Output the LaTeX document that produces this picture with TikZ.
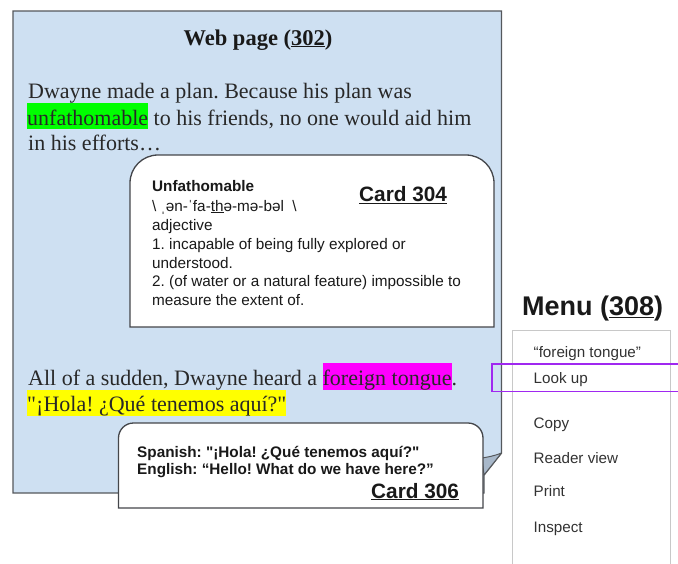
\documentclass[tikz,border=0pt]{standalone}
\usepackage{fontspec}
\setmainfont{Liberation Serif}[Ligatures=TeXOff]
\setsansfont{Liberation Sans}[Ligatures=TeXOff]
\frenchspacing
\definecolor{pagefill}{RGB}{206,224,242}
\definecolor{pageline}{RGB}{85,88,92}
\definecolor{foldfill}{RGB}{168,184,202}
\definecolor{bodytext}{RGB}{40,40,40}
\definecolor{cardtext}{RGB}{25,25,25}
\definecolor{menutext}{RGB}{50,50,50}
\definecolor{menuline}{RGB}{200,200,200}
\definecolor{hlgreen}{RGB}{0,255,0}
\definecolor{hlmagenta}{RGB}{255,0,255}
\definecolor{hlyellow}{RGB}{255,255,0}
\definecolor{lookup}{RGB}{160,40,240}
\newcommand{\hlbox}[2]{{\setlength{\fboxsep}{0pt}\colorbox{#1}{\rule[-4pt]{0pt}{26pt}#2}}}
\tikzset{
  pagebody/.style={fill=pagefill,draw=pageline,line width=1.4pt,line join=miter},
  foldflap/.style={fill=foldfill,draw=pageline,line width=1pt,line join=round},
  cardbody/.style={fill=white,draw=pageline!80!black,line width=1.3pt},
  serifline/.style={anchor=base west,inner sep=0pt,font=\fontsize{22}{26}\selectfont,text=bodytext},
  cardline/.style={anchor=base west,inner sep=0pt,font=\sffamily\fontsize{15.3}{18}\selectfont,text=cardtext},
  cardbold/.style={cardline,font=\sffamily\bfseries\fontsize{15.3}{18}\selectfont},
  cardtitle/.style={anchor=base west,inner sep=0pt,font=\sffamily\bfseries\fontsize{20.8}{24}\selectfont,text=cardtext},
  menuitem/.style={anchor=base west,inner sep=0pt,font=\sffamily\fontsize{15.2}{18}\selectfont,text=menutext},
}
\begin{document}
\begin{tikzpicture}[x=1pt,y=-1pt]
\useasboundingbox (0,0) rectangle (678,563);
\clip (0,0) rectangle (678,563);
% web page
\draw[pagebody] (13,11) -- (501.5,11) -- (501.5,453) -- (484,475) -- (484,493) -- (13,493) -- cycle;
\draw[foldflap] (501.5,453) .. controls (494,456) and (488,457) .. (482,458) -- (484,475) -- cycle;
\node[anchor=base,inner sep=0pt,font=\bfseries\fontsize{22.5}{26}\selectfont,text=black!90] (title) at (258,45) {Web page (\underline{302})};
\node[serifline] (l1) at (28,98) {Dwayne made a plan. Because his plan was};
\node[serifline] (l2) at (27,125) {\hlbox{hlgreen}{unfathomable} to his friends, no one would aid him};
\node[serifline] (l3) at (28,150.5) {in his efforts\ldots};
\node[serifline] (l4) at (28,385) {All of a sudden, Dwayne heard a \hlbox{hlmagenta}{foreign tongue}.};
\node[serifline] (l5) at (27,411.5) {\hlbox{hlyellow}{"¡Hola! ¿Qué tenemos aquí?"}};
% card 304
\draw[cardbody] (130,327) -- (130,183) arc[start angle=180,end angle=270,radius=28] -- (466,155) arc[start angle=270,end angle=360,radius=28] -- (494,327) -- cycle;
\node[cardbold] (c1) at (152,191.5) {Unfathomable};
\node[cardline] (c2) at (152,211) {\textbackslash{} ˌən-ˈfa-\underline{th}ə-mə-bəl \ \textbackslash};
\node[cardline] (c3) at (152,230) {adjective};
\node[cardline] (c4) at (152,249.5) {1. incapable of being fully explored or};
\node[cardline] (c5) at (152,268) {understood.};
\node[cardline] (c6) at (152,286.5) {2. (of water or a natural feature) impossible to};
\node[cardline] (c7) at (152,305) {measure the extent of.};
\node[cardtitle] (card304) at (359,201.5) {\underline{Card 304}};
% card 306
\draw[cardbody] (118.5,508) -- (118.5,438) arc[start angle=180,end angle=270,radius=15] -- (468,423) arc[start angle=270,end angle=360,radius=15] -- (483,508) -- cycle;
\node[cardbold] (s1) at (137,457.5) {Spanish: "¡Hola! ¿Qué tenemos aquí?"};
\node[cardbold] (s2) at (137,474) {English: “Hello! What do we have here?”};
\node[cardtitle] (card306) at (371,498) {\underline{Card 306}};
% menu
\node[anchor=base west,inner sep=0pt,font=\sffamily\bfseries\fontsize{27}{30}\selectfont,text=black!90] (menutitle) at (522,315) {Menu (\underline{308})};
\draw[draw=menuline,line width=1pt] (512,575) -- (512,330) -- (670,330) -- (670,575);
\node[menuitem] (m1) at (533.5,357) {“foreign tongue”};
\node[menuitem] (m2) at (533.5,383) {Look up};
\node[menuitem] (m3) at (533.5,428.5) {Copy};
\node[menuitem] (m4) at (533.5,463.5) {Reader view};
\node[menuitem] (m5) at (533.5,496.5) {Print};
\node[menuitem] (m6) at (533.5,532) {Inspect};
\draw[draw=lookup,line width=1.8pt] (690,364) -- (492,364) -- (492,391.5) -- (690,391.5);
\end{tikzpicture}
\end{document}
